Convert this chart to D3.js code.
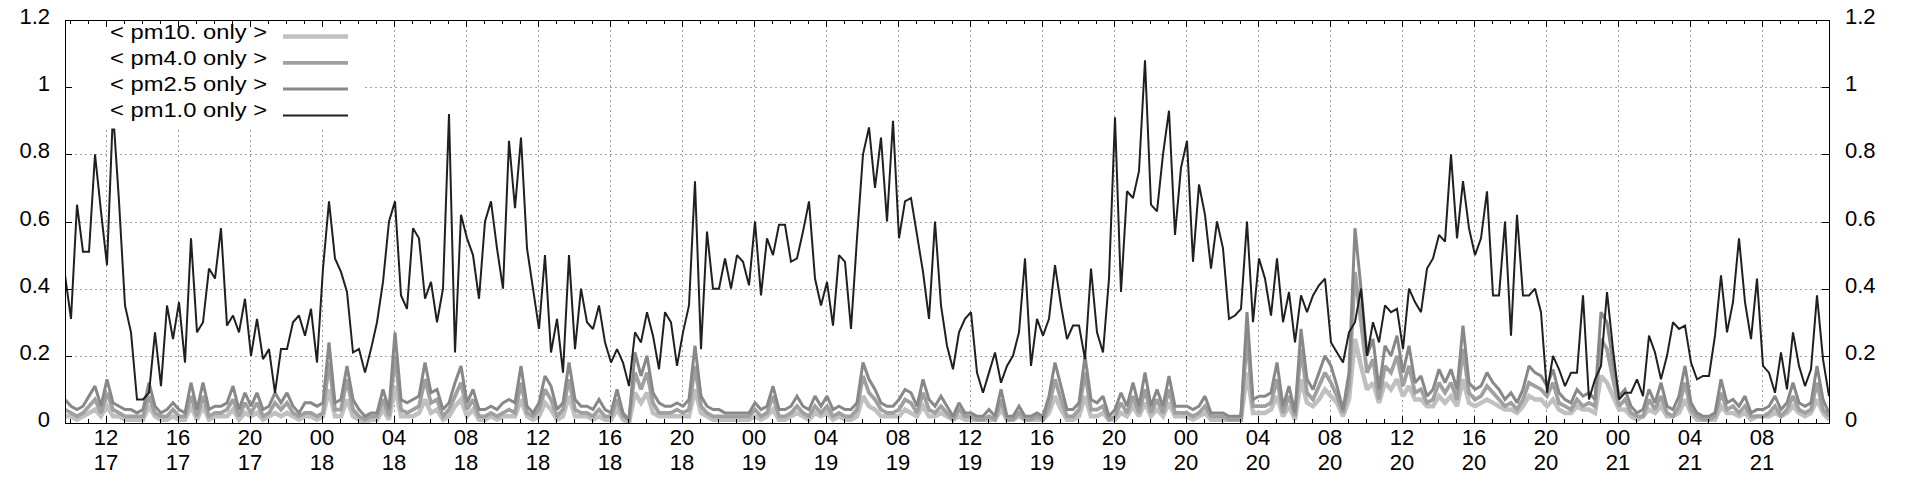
<!DOCTYPE html>
<html><head><meta charset="utf-8">
<script src="https://cdn.jsdelivr.net/npm/d3@7"></script>
<style>body{margin:0;background:#fff;}svg{display:block;}text{font-family:"Liberation Sans",Arial,sans-serif;}</style>
</head><body><svg id="c" width="1920" height="480"></svg>
<script>
const startTime = "2021-05-17T09:43:20Z";
const stepMinutes = 20;
const spanHours = 98;
const yTicks = [0, 0.2, 0.4, 0.6, 0.8, 1, 1.2];
const seriesNames = ["< pm10. only >", "< pm4.0 only >", "< pm2.5 only >", "< pm1.0 only >"];

const pm1 = [
0.44,0.31,0.65,0.51,0.51,0.80,0.63,0.47,0.93,0.66,0.35,0.27,0.07,0.07,0.09,0.27,0.11,0.35,0.25,0.36,0.18,0.55,0.27,0.30,0.46,0.43,0.58,0.29,0.32,0.27,0.37,0.20,0.31,0.19,0.22,0.09,0.22,
0.22,0.30,0.32,0.26,0.34,0.18,0.46,0.66,0.49,0.45,0.39,0.21,0.22,0.15,0.22,0.30,0.42,0.60,0.66,0.38,0.34,0.58,0.55,0.37,0.42,0.30,0.40,0.92,0.21,0.62,0.55,0.50,0.37,0.60,0.66,0.52,0.40,
0.84,0.64,0.85,0.52,0.40,0.28,0.50,0.21,0.31,0.15,0.50,0.22,0.40,0.30,0.28,0.35,0.24,0.18,0.22,0.18,0.11,0.27,0.24,0.33,0.26,0.16,0.33,0.30,0.17,0.27,0.35,0.72,0.22,0.57,0.40,0.40,0.49,
0.40,0.50,0.48,0.41,0.60,0.38,0.55,0.50,0.59,0.59,0.48,0.49,0.57,0.66,0.43,0.35,0.42,0.29,0.50,0.48,0.28,0.55,0.80,0.88,0.70,0.85,0.60,0.90,0.55,0.66,0.67,0.56,0.45,0.31,0.60,0.35,
0.23,0.16,0.27,0.31,0.33,0.15,0.09,0.15,0.21,0.12,0.17,0.20,0.27,0.49,0.17,0.31,0.26,0.31,0.47,0.35,0.25,0.29,0.29,0.19,0.46,0.27,0.21,0.43,0.91,0.39,0.69,0.67,0.75,1.08,0.65,0.63,0.80,
0.93,0.56,0.76,0.84,0.48,0.71,0.62,0.46,0.60,0.52,0.31,0.32,0.34,0.60,0.30,0.49,0.43,0.32,0.49,0.30,0.39,0.24,0.38,0.33,0.38,0.41,0.43,0.24,0.21,0.18,0.27,0.30,0.40,0.20,0.30,0.24,0.35,
0.33,0.34,0.22,0.40,0.36,0.33,0.46,0.49,0.56,0.54,0.80,0.55,0.72,0.58,0.50,0.55,0.69,0.38,0.38,0.60,0.26,0.62,0.38,0.38,0.40,0.33,0.09,0.20,0.16,0.11,0.15,0.15,0.38,0.07,0.13,0.17,
0.39,0.22,0.07,0.09,0.09,0.13,0.08,0.26,0.21,0.13,0.20,0.30,0.28,0.29,0.18,0.13,0.14,0.14,0.26,0.44,0.27,0.36,0.55,0.36,0.25,0.43,0.17,0.15,0.09,0.21,0.10,0.27,0.17,0.11,0.16,0.38,0.19,0.08];

const pm25 = [
0.07,0.05,0.04,0.05,0.08,0.11,0.05,0.13,0.06,0.05,0.04,0.04,0.03,0.04,0.12,0.05,0.03,0.04,0.06,0.04,
0.03,0.12,0.04,0.12,0.04,0.05,0.05,0.06,0.11,0.04,0.09,0.05,0.09,0.04,0.05,0.09,0.06,0.09,0.05,0.03,
0.06,0.06,0.05,0.06,0.24,0.06,0.07,0.17,0.07,0.04,0.02,0.03,0.03,0.10,0.04,0.27,0.07,0.06,0.07,0.08,
0.18,0.09,0.10,0.04,0.06,0.12,0.17,0.06,0.10,0.04,0.04,0.05,0.04,0.06,0.07,0.06,0.17,0.05,0.03,0.06,
0.14,0.11,0.04,0.06,0.18,0.07,0.05,0.05,0.04,0.07,0.04,0.03,0.10,0.03,0.01,0.21,0.14,0.20,0.09,0.06,
0.05,0.05,0.06,0.05,0.07,0.23,0.08,0.05,0.04,0.04,0.03,0.03,0.03,0.03,0.03,0.06,0.04,0.05,0.11,0.04,
0.04,0.05,0.08,0.05,0.04,0.08,0.05,0.08,0.04,0.05,0.04,0.04,0.06,0.18,0.13,0.10,0.06,0.05,0.05,0.07,
0.10,0.09,0.05,0.13,0.07,0.05,0.08,0.05,0.02,0.06,0.03,0.03,0.02,0.02,0.04,0.02,0.10,0.02,0.02,0.05,
0.02,0.02,0.03,0.02,0.08,0.18,0.11,0.04,0.04,0.06,0.20,0.07,0.06,0.08,0.02,0.04,0.09,0.05,0.12,0.05,
0.15,0.05,0.10,0.05,0.14,0.05,0.05,0.05,0.04,0.05,0.08,0.03,0.03,0.03,0.02,0.02,0.02,0.33,0.07,0.08,
0.08,0.09,0.18,0.05,0.11,0.03,0.28,0.13,0.10,0.15,0.20,0.17,0.11,0.04,0.15,0.58,0.40,0.20,0.25,0.10,
0.23,0.20,0.26,0.15,0.23,0.12,0.14,0.08,0.10,0.16,0.12,0.16,0.10,0.29,0.12,0.10,0.11,0.15,0.12,0.10,
0.07,0.09,0.06,0.10,0.17,0.15,0.14,0.11,0.16,0.09,0.07,0.06,0.10,0.08,0.09,0.07,0.33,0.30,0.18,0.08,
0.10,0.05,0.03,0.04,0.10,0.06,0.12,0.05,0.04,0.08,0.17,0.06,0.03,0.02,0.02,0.03,0.13,0.06,0.07,0.05,
0.08,0.03,0.04,0.04,0.05,0.08,0.04,0.06,0.12,0.06,0.05,0.06,0.17,0.07,0.03];

const pm40 = [
0.04,0.03,0.02,0.03,0.05,0.07,0.03,0.09,0.04,0.03,0.02,0.02,0.02,0.02,0.08,0.03,0.02,0.02,0.04,0.02,
0.02,0.08,0.02,0.08,0.02,0.03,0.03,0.04,0.07,0.02,0.06,0.03,0.06,0.02,0.03,0.06,0.04,0.06,0.03,0.02,
0.03,0.03,0.02,0.03,0.18,0.04,0.04,0.13,0.04,0.02,0.01,0.02,0.02,0.07,0.02,0.20,0.04,0.03,0.04,0.05,
0.13,0.06,0.07,0.02,0.04,0.08,0.12,0.04,0.07,0.02,0.02,0.03,0.02,0.03,0.04,0.03,0.12,0.03,0.02,0.04,
0.10,0.07,0.02,0.04,0.13,0.04,0.03,0.03,0.02,0.04,0.02,0.02,0.07,0.02,0.01,0.15,0.10,0.15,0.06,0.03,
0.03,0.03,0.04,0.03,0.04,0.17,0.05,0.03,0.02,0.02,0.02,0.02,0.02,0.02,0.02,0.04,0.02,0.03,0.08,0.02,
0.02,0.03,0.05,0.03,0.02,0.05,0.03,0.05,0.02,0.03,0.02,0.02,0.04,0.14,0.09,0.07,0.04,0.03,0.03,0.04,
0.07,0.06,0.03,0.09,0.04,0.03,0.05,0.03,0.01,0.04,0.02,0.02,0.01,0.01,0.02,0.01,0.07,0.01,0.01,0.03,
0.01,0.01,0.02,0.01,0.05,0.13,0.07,0.02,0.02,0.04,0.15,0.04,0.04,0.05,0.01,0.02,0.06,0.03,0.08,0.03,
0.10,0.03,0.07,0.03,0.10,0.03,0.03,0.03,0.02,0.03,0.05,0.02,0.02,0.02,0.01,0.01,0.01,0.26,0.05,0.05,
0.05,0.06,0.13,0.03,0.08,0.02,0.22,0.09,0.07,0.11,0.15,0.12,0.08,0.03,0.11,0.45,0.30,0.15,0.19,0.07,
0.17,0.15,0.20,0.11,0.17,0.09,0.10,0.06,0.07,0.12,0.09,0.12,0.07,0.22,0.09,0.07,0.08,0.11,0.09,0.07,
0.05,0.06,0.04,0.07,0.12,0.11,0.10,0.08,0.12,0.06,0.05,0.04,0.07,0.05,0.06,0.05,0.25,0.22,0.13,0.05,
0.07,0.03,0.02,0.02,0.07,0.04,0.08,0.03,0.02,0.05,0.12,0.04,0.02,0.01,0.01,0.02,0.09,0.04,0.05,0.03,
0.05,0.02,0.02,0.02,0.03,0.05,0.02,0.04,0.08,0.04,0.03,0.04,0.12,0.04,0.02];

const pm10 = [
0.02,0.02,0.01,0.02,0.03,0.04,0.02,0.05,0.02,0.02,0.01,0.01,0.01,0.01,0.05,0.02,0.01,0.01,0.02,0.01,
0.01,0.05,0.01,0.05,0.01,0.02,0.02,0.02,0.04,0.01,0.03,0.02,0.03,0.01,0.02,0.03,0.02,0.03,0.02,0.01,
0.02,0.02,0.01,0.02,0.10,0.02,0.02,0.07,0.02,0.01,0.00,0.01,0.01,0.04,0.01,0.11,0.02,0.02,0.02,0.03,
0.07,0.03,0.04,0.01,0.02,0.05,0.07,0.02,0.04,0.01,0.01,0.02,0.01,0.02,0.02,0.02,0.07,0.02,0.01,0.02,
0.06,0.04,0.01,0.02,0.08,0.02,0.02,0.02,0.01,0.02,0.01,0.01,0.04,0.01,0.00,0.09,0.06,0.09,0.03,0.02,
0.02,0.02,0.02,0.02,0.02,0.10,0.03,0.02,0.01,0.01,0.01,0.01,0.01,0.01,0.01,0.02,0.01,0.02,0.04,0.01,
0.01,0.02,0.03,0.02,0.01,0.03,0.02,0.03,0.01,0.02,0.01,0.01,0.02,0.08,0.05,0.04,0.02,0.02,0.02,0.02,
0.04,0.03,0.02,0.05,0.02,0.02,0.03,0.02,0.01,0.02,0.01,0.01,0.01,0.01,0.01,0.01,0.04,0.01,0.01,0.02,
0.01,0.01,0.01,0.01,0.03,0.08,0.04,0.01,0.01,0.02,0.08,0.02,0.02,0.03,0.01,0.01,0.03,0.02,0.05,0.02,
0.06,0.02,0.04,0.02,0.06,0.02,0.02,0.02,0.01,0.02,0.03,0.01,0.01,0.01,0.01,0.01,0.01,0.15,0.03,0.03,
0.03,0.04,0.08,0.02,0.05,0.01,0.13,0.06,0.05,0.07,0.10,0.08,0.06,0.02,0.07,0.25,0.17,0.10,0.12,0.06,
0.12,0.10,0.13,0.08,0.11,0.07,0.07,0.05,0.05,0.08,0.06,0.08,0.05,0.13,0.06,0.05,0.06,0.07,0.06,0.05,
0.04,0.04,0.03,0.05,0.08,0.07,0.07,0.05,0.07,0.04,0.03,0.03,0.05,0.04,0.04,0.03,0.14,0.12,0.08,0.04,
0.04,0.02,0.01,0.02,0.04,0.03,0.05,0.02,0.02,0.03,0.07,0.03,0.01,0.01,0.01,0.01,0.05,0.03,0.03,0.02,
0.03,0.01,0.02,0.02,0.02,0.03,0.02,0.03,0.05,0.03,0.02,0.03,0.07,0.03,0.01];

const seriesData = [pm10, pm40, pm25, pm1];
const seriesColors = ["#c0c0c0", "#a0a0a0", "#888888", "#202020"];
const seriesWidths = [4.5, 3.8, 3, 2];

const svg = d3.select("#c");
const M = {l: 65, r: 1829, t: 20, b: 423};
const t0 = new Date(startTime);
const t1 = d3.utcHour.offset(t0, spanHours);
const x = d3.scaleUtc().domain([t0, t1]).range([M.l, M.r]);
const y = d3.scaleLinear().domain([0, 1.2]).range([M.b, M.t]);
const times = pm1.map((_, i) => d3.utcMinute.offset(t0, i * stepMinutes));
const majorTicks = x.ticks(d3.utcHour.every(4));
const minorTicks = x.ticks(d3.utcHour.every(1));

// grid
const grid = svg.append("g").attr("stroke", "#a0a0a0").attr("stroke-width", 1).attr("stroke-dasharray", "2,3");
yTicks.filter(v => v > 0 && v < 1.2).forEach(v => {
  grid.append("line").attr("x1", M.l).attr("x2", M.r).attr("y1", Math.round(y(v)) + 0.5).attr("y2", Math.round(y(v)) + 0.5);
});
majorTicks.forEach(t => {
  grid.append("line").attr("x1", Math.round(x(t)) + 0.5).attr("x2", Math.round(x(t)) + 0.5).attr("y1", M.t).attr("y2", M.b);
});

// data
svg.append("clipPath").attr("id", "clip").append("rect").attr("x", M.l).attr("y", M.t).attr("width", M.r - M.l).attr("height", M.b - M.t);
const line = d3.line().x((d, i) => x(times[i])).y(d => y(d));
const dg = svg.append("g").attr("clip-path", "url(#clip)");
seriesData.forEach((s, k) => {
  dg.append("path").datum(s).attr("d", line).attr("fill", "none")
    .attr("stroke", seriesColors[k]).attr("stroke-width", seriesWidths[k]).attr("stroke-linejoin", "miter").attr("stroke-miterlimit", 2);
});

// legend (opaque)
svg.append("rect").attr("x", M.l + 0.5).attr("y", M.t + 0.5).attr("width", 297).attr("height", 108).attr("fill", "#fff");
const lg = svg.append("g");
seriesNames.forEach((n, k) => {
  const ly = 36.5 + k * 26.3;
  lg.append("text").attr("x", 267).attr("y", ly + 2).attr("text-anchor", "end").attr("font-size", 21)
    .attr("textLength", 157).attr("lengthAdjust", "spacingAndGlyphs").attr("fill", "#000").text(n);
  lg.append("line").attr("x1", 283).attr("x2", 348).attr("y1", ly).attr("y2", ly)
    .attr("stroke", seriesColors[k]).attr("stroke-width", seriesWidths[k]);
});

// frame
svg.append("rect").attr("x", M.l + 0.5).attr("y", M.t + 0.5).attr("width", M.r - M.l).attr("height", M.b - M.t)
  .attr("fill", "none").attr("stroke", "#000").attr("stroke-width", 1);

// ticks
const tk = svg.append("g").attr("stroke", "#000").attr("stroke-width", 1);
minorTicks.forEach(t => {
  const xx = Math.round(x(t)) + 0.5;
  const len = majorTicks.some(m => +m === +t) ? 7 : 4;
  tk.append("line").attr("x1", xx).attr("x2", xx).attr("y1", M.b).attr("y2", M.b - len);
  tk.append("line").attr("x1", xx).attr("x2", xx).attr("y1", M.t).attr("y2", M.t + len);
});
yTicks.forEach(v => {
  const yy = Math.round(y(v)) + 0.5;
  tk.append("line").attr("x1", M.l).attr("x2", M.l + 7).attr("y1", yy).attr("y2", yy);
  tk.append("line").attr("x1", M.r).attr("x2", M.r - 7).attr("y1", yy).attr("y2", yy);
});

// labels
const fmtY = d3.format("~g");
const lab = svg.append("g").attr("font-size", 22).attr("fill", "#000");
yTicks.forEach(v => {
  lab.append("text").attr("x", 50).attr("y", y(v) + 4).attr("text-anchor", "end").text(fmtY(v));
  lab.append("text").attr("x", 1845).attr("y", y(v) + 4).attr("text-anchor", "start").text(fmtY(v));
});
const fmtH = d3.utcFormat("%H"), fmtD = d3.utcFormat("%d");
majorTicks.forEach(t => {
  lab.append("text").attr("x", x(t)).attr("y", 445).attr("text-anchor", "middle").text(fmtH(t));
  lab.append("text").attr("x", x(t)).attr("y", 470).attr("text-anchor", "middle").text(fmtD(t));
});
</script></body></html>
